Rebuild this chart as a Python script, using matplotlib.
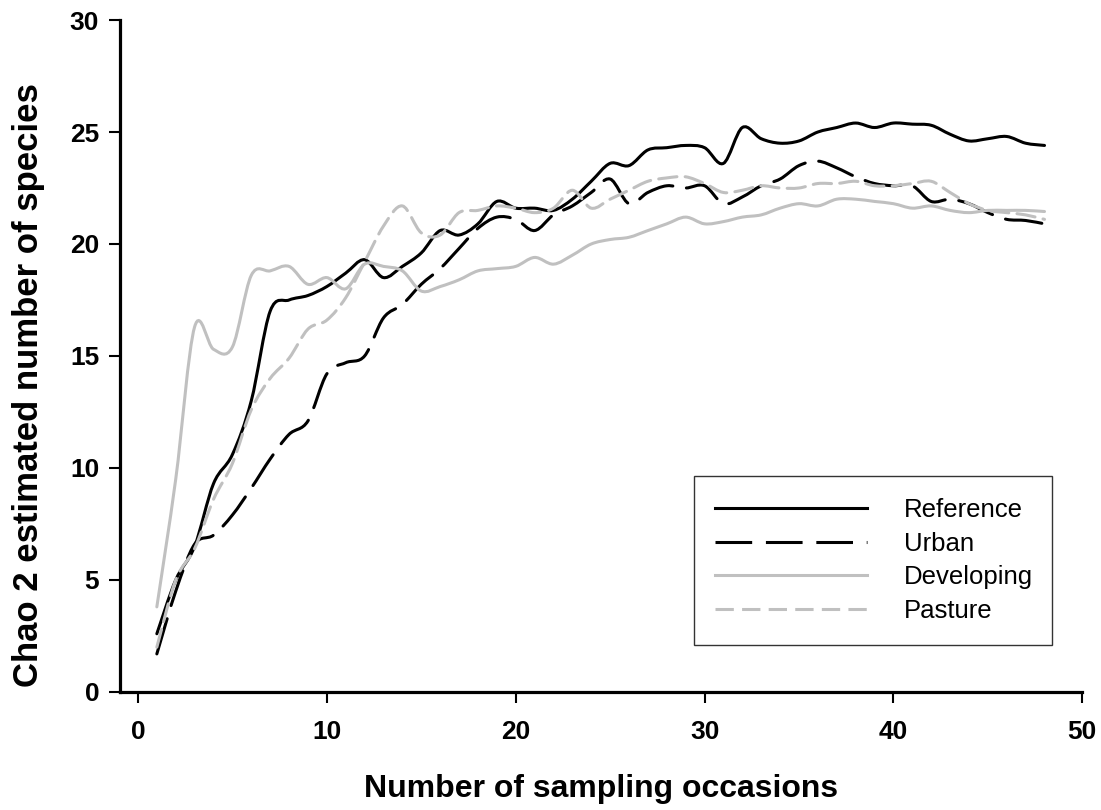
import numpy as np
import matplotlib
matplotlib.use("Agg")
import matplotlib.pyplot as plt
from matplotlib.path import Path
from matplotlib.patches import PathPatch
from matplotlib.lines import Line2D

plt.rcParams['font.family'] = ['Liberation Sans', 'DejaVu Sans']

# Data (Chao 2 estimates per sampling occasion)
occasions = np.arange(1, 49)
reference = [2.6, 5.0, 6.5, 9.3, 10.6, 13.0, 17.0, 17.5, 17.7, 18.1,
             18.7, 19.3, 18.5, 19.0, 19.6, 20.6, 20.4, 20.9, 21.9, 21.6,
             21.6, 21.5, 22.0, 22.8, 23.6, 23.5, 24.2, 24.3, 24.4, 24.3,
             23.6, 25.2, 24.7, 24.5, 24.6, 25.0, 25.2, 25.4, 25.2, 25.4,
             25.35, 25.3, 24.9, 24.6, 24.7, 24.8, 24.5, 24.4]
urban = [1.7, 4.5, 6.6, 7.0, 7.9, 9.1, 10.4, 11.5, 12.1, 14.2,
         14.7, 15.0, 16.7, 17.3, 18.2, 18.9, 19.8, 20.7, 21.2, 21.1,
         20.6, 21.3, 21.7, 22.3, 22.9, 21.8, 22.3, 22.6, 22.5, 22.6,
         21.8, 22.1, 22.6, 22.9, 23.5, 23.7, 23.4, 23.0, 22.7, 22.6,
         22.6, 21.9, 22.0, 21.8, 21.4, 21.1, 21.05, 20.9]
developing = [3.8, 9.5, 16.3, 15.3, 15.4, 18.6, 18.8, 19.0, 18.2, 18.5,
              18.0, 19.1, 19.0, 18.8, 17.9, 18.1, 18.4, 18.8, 18.9, 19.0,
              19.4, 19.1, 19.5, 20.0, 20.2, 20.3, 20.6, 20.9, 21.2, 20.9,
              21.0, 21.2, 21.3, 21.6, 21.8, 21.7, 22.0, 22.0, 21.9, 21.8,
              21.6, 21.7, 21.5, 21.4, 21.5, 21.5, 21.5, 21.45]
pasture = [2.0, 5.0, 6.4, 8.6, 10.2, 12.6, 14.0, 14.9, 16.2, 16.6,
           17.6, 19.2, 20.8, 21.7, 20.5, 20.4, 21.4, 21.5, 21.7, 21.6,
           21.4, 21.6, 22.4, 21.6, 22.0, 22.4, 22.8, 22.95, 23.0, 22.7,
           22.3, 22.4, 22.6, 22.5, 22.5, 22.7, 22.7, 22.8, 22.6, 22.6,
           22.7, 22.8, 22.3, 21.8, 21.5, 21.4, 21.3, 21.1]

labels = ['Reference', 'Urban', 'Developing', 'Pasture']
series = [reference, urban, developing, pasture]
colors = ['black', 'black', '#c0c0c0', '#c0c0c0']
styles = ['-', (0, (12, 4.5)), '-', (0, (6, 2.7))]


def smooth_path(x, y):
    # Excel-style smoothed line: Catmull-Rom segments as cubic Bezier curves
    pts = np.column_stack([x, y]).astype(float)
    ext = np.vstack([pts[0], pts, pts[-1]])
    verts = [pts[0]]
    codes = [Path.MOVETO]
    for i in range(len(pts) - 1):
        p0, p1, p2, p3 = ext[i], ext[i + 1], ext[i + 2], ext[i + 3]
        verts += [p1 + (p2 - p0) / 6, p2 - (p3 - p1) / 6, p2]
        codes += [Path.CURVE4] * 3
    return Path(verts, codes)


fig = plt.figure(figsize=(11.01, 8.10), dpi=100)
ax = fig.add_axes([0.109, 0.1457, 0.874, 0.8296])

handles = []
for vals, lab, c, ls in zip(series, labels, colors, styles):
    patch = PathPatch(smooth_path(occasions, vals), fill=False, edgecolor=c,
                      linewidth=2.2, linestyle=ls, capstyle='round')
    ax.add_patch(patch)
    handles.append(Line2D([], [], color=c, linewidth=2.2, linestyle=ls, label=lab))

ax.set_xlim(-0.95, 50)
ax.set_ylim(0, 30)
ax.set_xticks(range(0, 51, 10))
ax.set_yticks(range(0, 31, 5))

for s in ['top', 'right']:
    ax.spines[s].set_visible(False)
for s in ['left', 'bottom']:
    ax.spines[s].set_linewidth(2.3)

ax.tick_params(axis='both', direction='out', length=8, width=1.5,
               labelsize=19, pad=7)
ax.tick_params(axis='x', pad=12)
for t in ax.get_xticklabels() + ax.get_yticklabels():
    t.set_fontweight('bold')

ax.set_xlabel('Number of sampling occasions', fontsize=23, fontweight='bold', labelpad=22)
ax.set_ylabel('Chao 2 estimated number of species', fontsize=25, fontweight='bold')
ax.yaxis.set_label_coords(-0.078, 0.457)

leg = ax.legend(handles=handles, loc='upper left',
                bbox_to_anchor=(0.596, 0.0, 0.373, 0.3214), mode='expand',
                fontsize=18.5, handlelength=5.9, handletextpad=1.45,
                labelspacing=0.38, borderaxespad=0, fancybox=False,
                edgecolor='black', borderpad=0.85)
leg.get_frame().set_linewidth(1.0)

fig.savefig('out.png', dpi=100)
